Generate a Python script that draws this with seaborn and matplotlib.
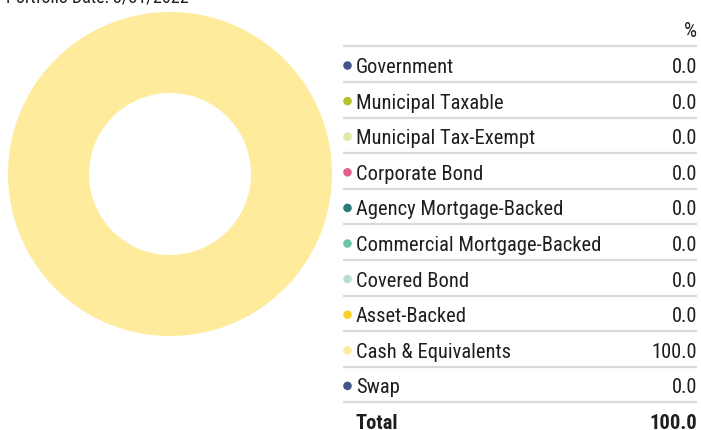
import matplotlib
matplotlib.use("Agg")
import matplotlib.pyplot as plt
import seaborn as sns
import pandas as pd

# Fixed-income sector breakdown
sectors = [
    "Government",
    "Municipal Taxable",
    "Municipal Tax-Exempt",
    "Corporate Bond",
    "Agency Mortgage-Backed",
    "Commercial Mortgage-Backed",
    "Covered Bond",
    "Asset-Backed",
    "Cash & Equivalents",
    "Swap",
]
weights = [0.0, 0.0, 0.0, 0.0, 0.0, 0.0, 0.0, 0.0, 100.0, 0.0]
sector_colors = [
    "#45558a", "#b4c22e", "#dde8a6", "#e0618e", "#2c7a7e",
    "#6cc3a5", "#b6e0d1", "#f6d22a", "#feeb9c", "#45558a",
]
total_label = "Total"
portfolio_date = "Portfolio Date: 3/31/2022"

sns.set_theme(style="white")
plt.rcParams["font.family"] = ["Roboto Condensed", "DejaVu Sans"]
text_color = "#1e1e1e"

W, H = 701, 430
fig = plt.figure(figsize=(W / 100, H / 100), dpi=100)

# Donut chart
pie_ax = fig.add_axes([8 / W, (H - 336) / H, 324 / W, 324 / H])
pie_ax.pie(
    weights,
    colors=sector_colors,
    startangle=90,
    counterclock=False,
    radius=1.0,
    wedgeprops=dict(width=0.5, linewidth=0),
)
pie_ax.set_xlim(-1, 1)
pie_ax.set_ylim(-1, 1)
pie_ax.set_aspect("equal")
pie_ax.axis("off")

# Legend table, laid out in pixel units
tab = fig.add_axes([0, 0, 1, 1], facecolor="none")

row0, step = 65.5, 35.6
x_line0, x_line1 = 343, 697
x_dot, x_label, x_value = 347.5, 356, 697
font_size = 14.8

df = pd.DataFrame({
    "sector": sectors,
    "weight": weights,
    "x": [x_dot] * len(sectors),
    "y": [row0 + step * i for i in range(len(sectors))],
})

sns.scatterplot(data=df, x="x", y="y", hue="sector", palette=sector_colors,
                s=38, linewidth=0, legend=False, ax=tab)
tab.set_xlim(0, W)
tab.set_ylim(H, 0)
tab.axis("off")

# header
header_y = row0 - step
tab.text(x_value, header_y, "%", ha="right", va="center_baseline",
         fontsize=font_size, color=text_color)
tab.plot([x_line0, x_line1], [header_y + 16.5, header_y + 16.5],
         color="#d9d9d9", lw=1.6, solid_capstyle="butt")

for _, r in df.iterrows():
    tab.text(x_label, r["y"], r["sector"], ha="left", va="center_baseline",
             fontsize=font_size, color=text_color)
    tab.text(x_value, r["y"], f"{r['weight']:.1f}", ha="right",
             va="center_baseline", fontsize=font_size, color=text_color)
    tab.plot([x_line0, x_line1], [r["y"] + 16.5, r["y"] + 16.5],
             color="#d9d9d9", lw=1.6, solid_capstyle="butt")

total_y = row0 + step * len(sectors)
tab.text(x_label, total_y, total_label, ha="left", va="center_baseline",
         fontsize=font_size, fontweight="bold", color=text_color)
tab.text(x_value, total_y, f"{sum(weights):.1f}", ha="right",
         va="center_baseline", fontsize=font_size, fontweight="bold",
         color=text_color)

# date line at the very top edge
tab.text(6, 2, portfolio_date, ha="left", va="baseline",
         fontsize=13, color=text_color)

fig.savefig("out.png", dpi=100)
